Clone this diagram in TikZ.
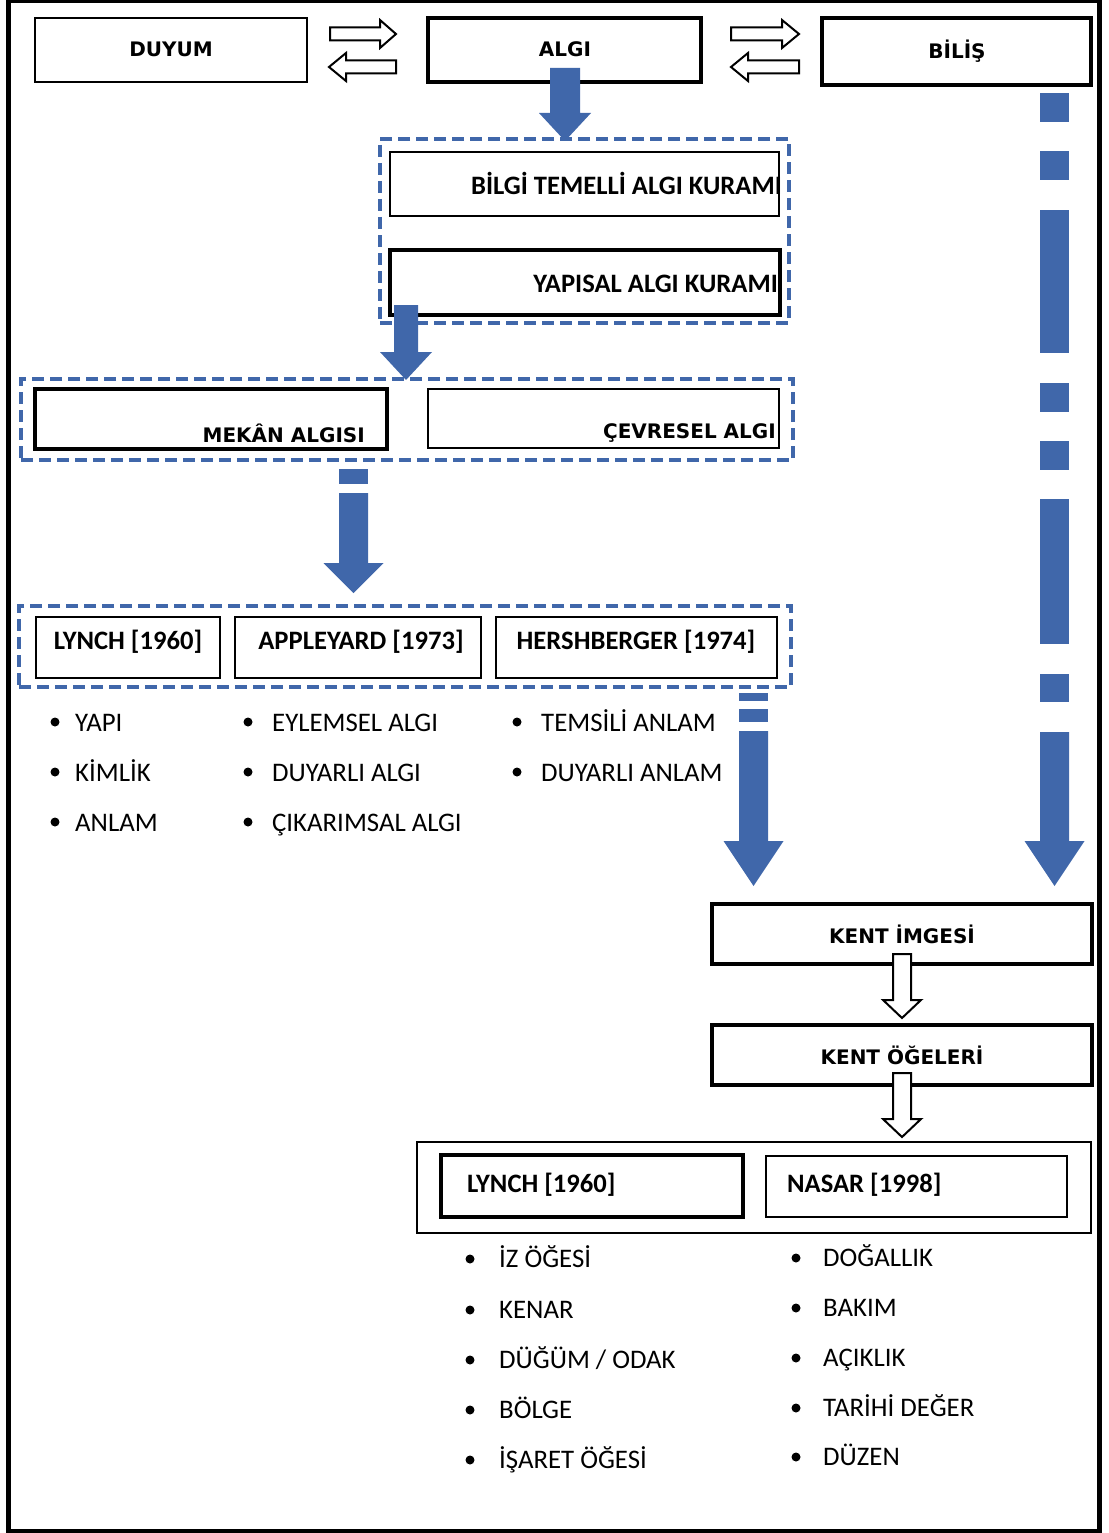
\documentclass[tikz,border=0pt]{standalone}
\usepackage{fontspec}
\setmainfont{Carlito}
\newfontfamily\dvs{DejaVu Sans}
\definecolor{arrblue}{RGB}{64,103,170}
\tikzset{
 framebox/.style={draw=black, line width=5pt, inner sep=0pt},
 thinbox/.style={draw=black, line width=2pt, fill=white, inner sep=0pt},
 thickbox/.style={draw=black, line width=4.5pt, fill=white, inner sep=0pt},
 dbox/.style={draw=arrblue, line width=4.5pt, dash pattern=on 12pt off 6pt, inner sep=0pt},
 vlabel/.style={font=\dvs\bfseries\fontsize{20}{24}\selectfont, inner sep=0pt},
 clabel/.style={font=\bfseries\fontsize{26.6}{30}\selectfont, inner sep=0pt},
 item/.style={font=\fontsize{26.8}{30}\selectfont, inner sep=0pt, anchor=base west},
 dot/.style={circle, fill=black, inner sep=0pt, minimum size=9pt},
 bluefill/.style={fill=arrblue},
 hollow/.style={draw=black, line width=2pt, fill=white, line join=miter},
}
\newcommand\bx[6]{%
 \pgfmathsetmacro\bxw{#5-#3}\pgfmathsetmacro\bxh{#6-#4}%
 \pgfmathsetmacro\bxcx{(#3+#5)/2}\pgfmathsetmacro\bxcy{(#4+#6)/2}%
 \node[#1, minimum width=\bxw pt, minimum height=\bxh pt] (#2) at (\bxcx,\bxcy) {};}
\newcommand\dnarrow[7]{%
 \path[#1] ({#2-#3},#5) -- ({#2+#3},#5) -- ({#2+#3},#6) -- ({#2+#4},#6) -- (#2,#7) -- ({#2-#4},#6) -- ({#2-#3},#6) -- cycle;}
\newcommand\bpiece[4]{\fill[arrblue] ({#1-#2},#3) rectangle ({#1+#2},#4);}
\newcommand\hzarrow[6]{%
 \path[hollow] (#1,{#4-#5}) -- (#2,{#4-#5}) -- (#2,{#4-#6}) -- (#3,#4) -- (#2,{#4+#6}) -- (#2,{#4+#5}) -- (#1,{#4+#5}) -- cycle;}
\begin{document}
\begin{tikzpicture}[x=1pt,y=-1pt]
\useasboundingbox (0,0) rectangle (1108,1533);
\fill[white] (0,0) rectangle (1108,1533);
\bx{framebox}{frame}{8.5}{0.5}{1099}{1531}
% top row
\bx{thinbox}{duyum}{35}{18}{307}{82}
\bx{thickbox}{algi}{428}{18}{701}{82}
\bx{thickbox}{bilis}{822}{18}{1091}{85}
\node[vlabel, anchor=base] (tduyum) at (171,57) {DUYUM};
\node[vlabel, anchor=base] (talgi) at (565,57) {ALGI};
\node[vlabel, anchor=base] (tbilis) at (957,59) {BİLİŞ};
\hzarrow{330}{380}{396}{34}{6.5}{14}
\hzarrow{396}{346}{329}{67}{6.5}{14}
\hzarrow{731}{782}{799}{34}{6.5}{14}
\hzarrow{799}{748}{731}{67}{6.5}{14}
% kuram group
\bx{dbox}{grp1}{380}{139}{789}{323}
\bx{thinbox}{bilgi}{390}{152}{779}{216}
\bx{thickbox}{yapisal}{390}{250}{780}{315}
\node[clabel, anchor=base east] (tbilgi) at (782,194) {BİLGİ TEMELLİ ALGI KURAMI};
\node[clabel, anchor=base east] (tyapisal) at (778,292) {YAPISAL ALGI KURAMI};
% mekan group
\bx{dbox}{grp2}{21}{379}{793}{460}
\bx{thickbox}{mekan}{35}{389}{387}{449}
\bx{thinbox}{cevre}{428}{389}{779}{448}
\node[vlabel, anchor=base east] (tmekan) at (365,442) {MEKÂN ALGISI};
\node[vlabel, anchor=base east] (tcevre) at (776,438) {ÇEVRESEL ALGI};
% authors group
\bx{dbox}{grp3}{19}{606}{791}{687}
\bx{thinbox}{lynch}{36}{617}{220}{678}
\bx{thinbox}{appl}{235}{617}{481}{678}
\bx{thinbox}{hersh}{496}{617}{777}{678}
\node[clabel, anchor=base] (tlynch) at (128,649) {LYNCH [1960]};
\node[clabel, anchor=base] (tappl) at (361,649) {APPLEYARD [1973]};
\node[clabel, anchor=base] (thersh) at (636,649) {HERSHBERGER [1974]};
% items
\foreach \t/\yy [count=\i] in {YAPI/731, KİMLİK/781, ANLAM/831}{
  \node[dot] (da\i) at (55,{\yy-9}) {};
  \node[item] (ia\i) at (75,\yy) {\t};}
\foreach \t/\yy [count=\i] in {EYLEMSEL ALGI/731, DUYARLI ALGI/781, ÇIKARIMSAL ALGI/831}{
  \node[dot] (db\i) at (248,{\yy-9}) {};
  \node[item] (ib\i) at (272,\yy) {\t};}
\foreach \t/\yy [count=\i] in {TEMSİLİ ANLAM/731, DUYARLI ANLAM/781}{
  \node[dot] (dc\i) at (517,{\yy-9}) {};
  \node[item] (ic\i) at (541,\yy) {\t};}
% kent
\bx{thickbox}{imge}{712}{904}{1092}{964}
\bx{thickbox}{ogeler}{712}{1025}{1092}{1085}
\node[vlabel, anchor=base] (timge) at (902,943) {KENT İMGESİ};
\node[vlabel, anchor=base] (togeler) at (902,1064) {KENT ÖĞELERİ};
\dnarrow{hollow}{902}{9}{19}{954}{1000}{1018}
\dnarrow{hollow}{902}{9}{19}{1073}{1119}{1137}
% bottom group
\bx{thinbox}{grp4}{417}{1142}{1091}{1233}
\bx{thickbox}{lynch2}{441}{1155}{743}{1217}
\bx{thinbox}{nasar}{766}{1156}{1067}{1217}
\node[clabel, anchor=base west] (tlynch2) at (467,1192) {LYNCH [1960]};
\node[clabel, anchor=base west] (tnasar) at (787,1192) {NASAR [1998]};
\foreach \t/\yy [count=\i] in {İZ ÖĞESİ/1267, KENAR/1318, {DÜĞÜM / ODAK}/1368, BÖLGE/1418, İŞARET ÖĞESİ/1468}{
  \node[dot] (dd\i) at (470,{\yy-8}) {};
  \node[item] (id\i) at (499,\yy) {\t};}
\foreach \t/\yy [count=\i] in {DOĞALLIK/1266, BAKIM/1316, AÇIKLIK/1366, TARİHİ DEĞER/1416, DÜZEN/1465}{
  \node[dot] (de\i) at (796,{\yy-8}) {};
  \node[item] (ie\i) at (823,\yy) {\t};}
% blue arrows
\dnarrow{bluefill}{565}{15}{26}{68}{113}{141}
\dnarrow{bluefill}{406}{12}{26}{305}{352}{380}
\bpiece{353.5}{14.5}{469}{484}
\dnarrow{bluefill}{353.5}{14.5}{30}{493}{563}{593}
\bpiece{753.5}{14.5}{693}{701}
\bpiece{753.5}{14.5}{709}{722}
\dnarrow{bluefill}{753.5}{14.5}{30}{731}{841}{886}
\bpiece{1054.5}{14.5}{93}{122}
\bpiece{1054.5}{14.5}{151}{180}
\bpiece{1054.5}{14.5}{210}{353}
\bpiece{1054.5}{14.5}{383}{412}
\bpiece{1054.5}{14.5}{441}{470}
\bpiece{1054.5}{14.5}{499}{644}
\bpiece{1054.5}{14.5}{674}{702}
\dnarrow{bluefill}{1054.5}{14.5}{30}{732}{841}{886}
\end{tikzpicture}
\end{document}
